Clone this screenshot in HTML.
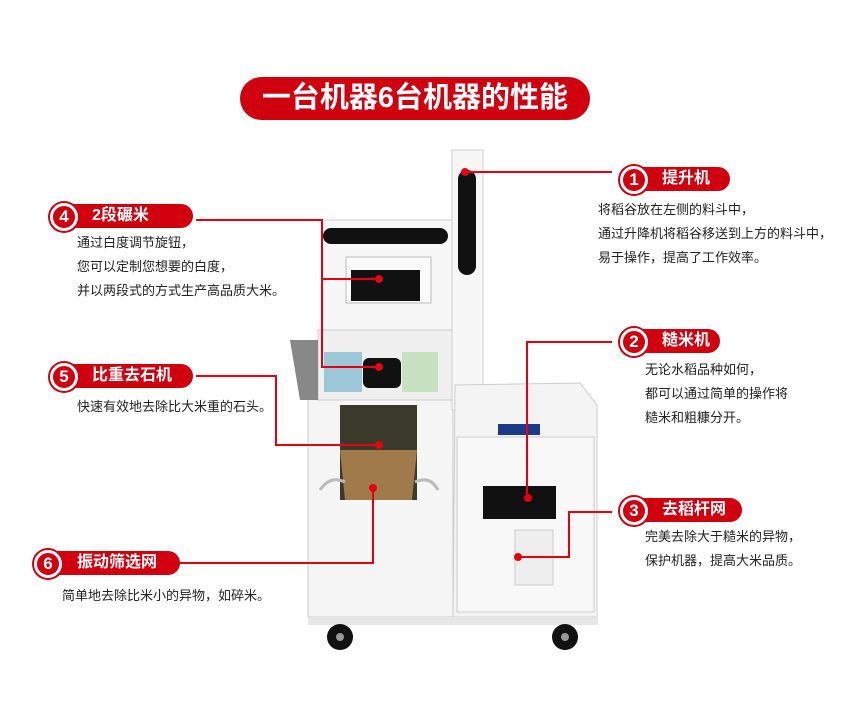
<!DOCTYPE html>
<html><head><meta charset="utf-8"><style>
body{margin:0;width:842px;height:709px;background:#fff;position:relative;overflow:hidden;font-family:"Liberation Sans","Noto Sans CJK SC",sans-serif}
.t{position:absolute;font-size:13px;color:#222;line-height:24px;white-space:nowrap}
.title{position:absolute;left:240px;top:77px;width:350px;height:43px;background:#d0000f;border-radius:22px;color:#fff;font-size:29px;font-weight:bold;text-align:center;line-height:43px}
.pill{position:absolute;height:24px;background:#d0000f;border-radius:0 12px 12px 0;color:#fff;font-size:16px;font-weight:bold;line-height:24px;padding-left:22px;box-sizing:border-box}
.c{position:absolute;width:22px;height:22px;border-radius:50%;background:#d0000f;border:3px solid #fff;box-shadow:0 0 0 2px #d0000f;color:#fff;font-weight:bold;font-size:17px;text-align:center;line-height:22px}
</style></head><body>
<svg width="842" height="709" style="position:absolute;left:0;top:0">
<rect x="308" y="395" width="145" height="222" fill="#f5f5f5" stroke="#ccc"/>
<rect x="322" y="220" width="130" height="110" fill="#f7f7f7" stroke="#ccc"/>
<rect x="318" y="330" width="134" height="70" fill="#f0f0f0" stroke="#ccc"/>
<rect x="323" y="228" width="125" height="16" rx="8" fill="#111"/>
<rect x="346" y="257" width="85" height="46" fill="#fafafa" stroke="#bbb"/>
<rect x="351" y="270" width="69" height="31" fill="#111"/>
<rect x="363" y="358" width="38" height="30" rx="6" fill="#111"/>
<rect x="324" y="352" width="38" height="40" fill="#9cc7d8"/>
<rect x="402" y="352" width="36" height="40" fill="#c8e1c0"/>
<rect x="340" y="405" width="77" height="95" fill="#3a3a2a"/>
<polygon points="340,450 417,450 412,500 345,500" fill="#a07a4a"/>
<path d="M320 490 Q330 475 345 482 M415 482 Q430 475 438 490" stroke="#bbb" stroke-width="3" fill="none"/>
<polygon points="290,340 318,340 318,400 300,400" fill="#888"/>
<rect x="452" y="150" width="31" height="260" fill="#f7f7f7" stroke="#ccc"/>
<rect x="458" y="170" width="18" height="105" rx="9" fill="#111"/>
<polygon points="455,385 580,383 597,405 597,617 453,617" fill="#f4f4f4" stroke="#ccc"/>
<rect x="457" y="437" width="137" height="175" fill="#f8f8f8" stroke="#ccc"/>
<rect x="498" y="424" width="42" height="11" fill="#1c3a8a"/>
<rect x="483" y="486" width="73" height="33" fill="#111"/>
<rect x="515" y="530" width="38" height="55" fill="#eee" stroke="#ccc"/>
<rect x="308" y="617" width="290" height="8" fill="#e6e6e6"/>
<circle cx="340" cy="637" r="13" fill="#111"/><circle cx="565" cy="637" r="13" fill="#111"/>
<circle cx="340" cy="637" r="4" fill="#999"/><circle cx="565" cy="637" r="4" fill="#999"/>
<g stroke="#e60012" stroke-width="2" fill="none">
<polyline points="196,220 322,220 322,367 379,367"/>
<line x1="322" y1="279" x2="379" y2="279"/>
<polyline points="196,376 276,376 276,445 379,445"/>
<polyline points="180,563 373,563 373,488"/>
<line x1="465" y1="172" x2="612" y2="172"/>
<polyline points="612,342 527,342 527,498"/>
<polyline points="612,512 569,512 569,557 518,557"/>
</g>
<g fill="#e60012"><circle cx="379" cy="279" r="4"/><circle cx="379" cy="367" r="4"/><circle cx="379" cy="445" r="4"/><circle cx="373" cy="488" r="4"/><circle cx="465" cy="172" r="4"/><circle cx="528" cy="498" r="4"/><circle cx="518" cy="557" r="4"/></g>
</svg>
<div class="title">一台机器6台机器的性能</div>

<div class="pill" style="left:640px;top:167px;width:90px">提升机</div><div class="c" style="left:620px;top:166px">1</div>
<div class="t" style="left:598px;top:198px">将稻谷放在左侧的料斗中，<br>通过升降机将稻谷移送到上方的料斗中，<br>易于操作，提高了工作效率。</div>

<div class="pill" style="left:640px;top:329px;width:80px">糙米机</div><div class="c" style="left:620px;top:328px">2</div>
<div class="t" style="left:645px;top:358px">无论水稻品种如何，<br>都可以通过简单的操作将<br>糙米和粗糠分开。</div>

<div class="pill" style="left:640px;top:498px;width:102px">去稻杆网</div><div class="c" style="left:620px;top:497px">3</div>
<div class="t" style="left:645px;top:525px">完美去除大于糙米的异物，<br>保护机器，提高大米品质。</div>

<div class="pill" style="left:70px;top:204px;width:123px">2段碾米</div><div class="c" style="left:50px;top:203px">4</div>
<div class="t" style="left:77px;top:231px">通过白度调节旋钮，<br>您可以定制您想要的白度，<br>并以两段式的方式生产高品质大米。</div>

<div class="pill" style="left:70px;top:364px;width:123px">比重去石机</div><div class="c" style="left:50px;top:363px">5</div>
<div class="t" style="left:77px;top:395px">快速有效地去除比大米重的石头。</div>

<div class="pill" style="left:55px;top:551px;width:125px">振动筛选网</div><div class="c" style="left:34px;top:550px">6</div>
<div class="t" style="left:62px;top:584px">简单地去除比米小的异物，如碎米。</div>
</body></html>
